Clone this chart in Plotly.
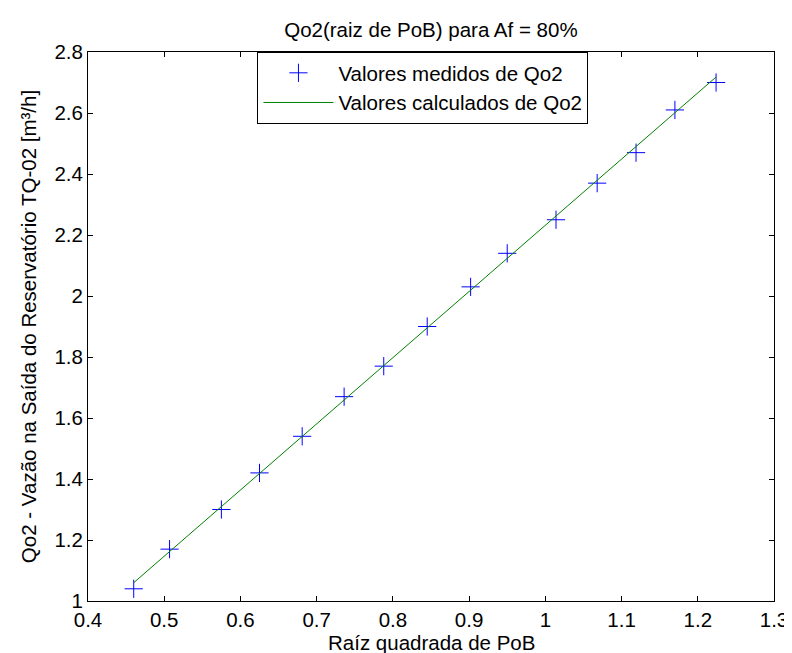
import plotly.graph_objects as go

# ── Data ────────────────────────────────────────────────────────────────────
raiz_pob = [0.460, 0.507, 0.575, 0.625, 0.681, 0.736, 0.788, 0.845,
            0.902, 0.950, 1.014, 1.068, 1.119, 1.170, 1.224]
qo2_medido = [1.04, 1.17, 1.30, 1.42, 1.54, 1.67, 1.77, 1.90,
              2.03, 2.14, 2.25, 2.37, 2.47, 2.61, 2.70]
qo2_calculado = [1.060, 1.162, 1.310, 1.418, 1.540, 1.659, 1.772, 1.895,
                 2.019, 2.123, 2.262, 2.379, 2.490, 2.600, 2.718]

FONT = "Arial, Liberation Sans, sans-serif"
FS = 20.5

fig = go.Figure()
fig.add_trace(go.Scatter(
    x=raiz_pob, y=qo2_medido,
    name="Valores medidos de Qo2", mode="markers",
    marker=dict(symbol="cross-thin-open", size=13, color="#0000ff",
                line=dict(color="#0000ff", width=1)),
))
fig.add_trace(go.Scatter(
    x=raiz_pob, y=qo2_calculado,
    name="Valores calculados de Qo2", mode="lines",
    line=dict(color="#008000", width=1),
))

axis_common = dict(
    showline=True, linecolor="black", linewidth=1, mirror="ticks",
    ticks="inside", ticklen=5, tickcolor="black", tickwidth=1,
    showgrid=False, zeroline=False,
    tickfont=dict(family=FONT, size=FS, color="black"),
)

fig.update_layout(
    width=792, height=653,
    paper_bgcolor="white", plot_bgcolor="white",
    margin=dict(l=80, r=16, t=44, b=60),
    font=dict(family=FONT, size=FS, color="black"),
    title=dict(text="Qo2(raiz de PoB) para Af = 80%", x=0.534, xanchor="center",
               y=0.966, yanchor="middle", font=dict(family=FONT, size=FS)),
    xaxis=dict(range=[0.4, 1.3], dtick=0.1, tick0=0.4, **axis_common),
    yaxis=dict(range=[1, 2.8], dtick=0.2, tick0=1,
               title=dict(text="Qo2 - Vazão na Saída do Reservatório TQ-02 [m³/h]",
                          standoff=12, font=dict(family=FONT, size=FS)),
               **axis_common),
    legend=dict(x=0.247, y=1.0, xanchor="left", yanchor="top",
                bgcolor="white", bordercolor="black", borderwidth=1,
                font=dict(family=FONT, size=FS, color="black"),
                itemwidth=70),
    showlegend=True,
)

# x-axis title placed as an annotation (MATLAB puts it close to the tick labels)
fig.add_annotation(text="Raíz quadrada de PoB", xref="paper", yref="paper",
                   x=0.5, y=-0.075, xanchor="center", yanchor="middle",
                   showarrow=False, font=dict(family=FONT, size=FS, color="black"))

fig.write_html("out.html")
